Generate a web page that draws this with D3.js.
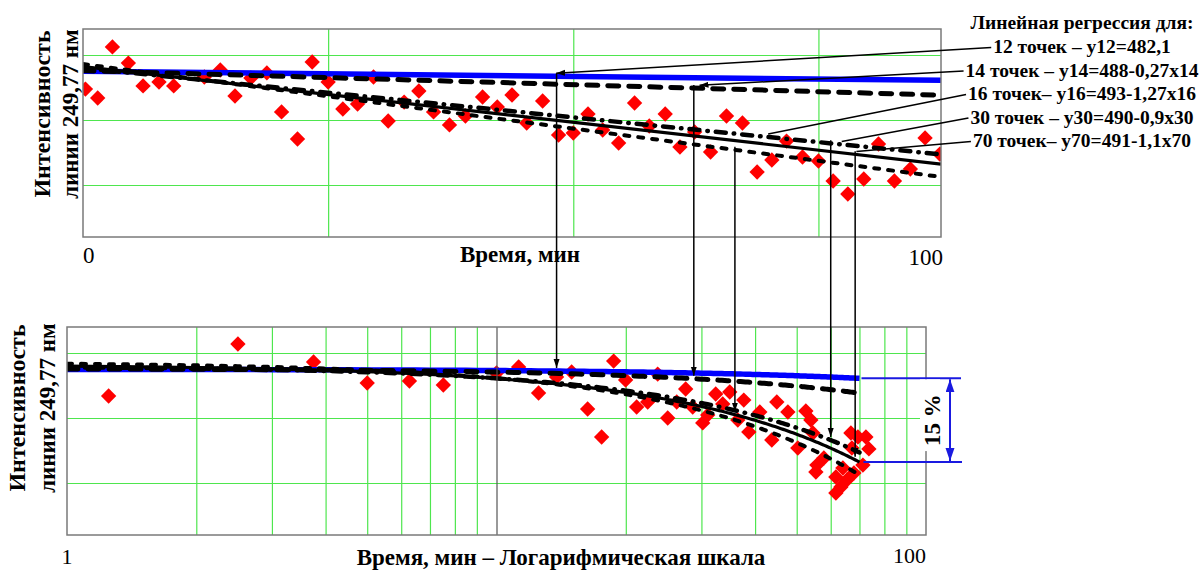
<!DOCTYPE html>
<html>
<head>
<meta charset="utf-8">
<script src="https://cdn.jsdelivr.net/npm/d3@7"></script>
<style>
  body { margin: 0; background: #fff; }
  svg { display: block; }
</style>
</head>
<body>
<div id="chart"></div>
<script>
// upper panel, linear time axis (minutes) and line intensity
const topTimes = [0.2, 1.2, 2.4, 3.7, 4.9, 6.2, 7.4, 9.9, 11.2, 12.4, 13.7, 15.0, 16.2, 17.5, 18.7, 20.0,
  21.2, 22.4, 23.7, 24.9, 26.2, 27.4, 28.6, 29.9, 31.2, 32.6, 33.8, 35.0, 36.2, 37.5, 38.8, 40.0,
  41.2, 42.4, 43.7, 45.0, 46.2, 47.5, 48.7, 49.9, 51.2, 52.5, 53.8, 55.0, 56.2, 57.4, 58.7, 60.0,
  61.2, 62.4, 63.7, 64.9, 66.2, 67.5, 68.7, 69.9];
const topValues = [473.8, 466.9, 506.2, 493.8, 476.2, 479.2, 476.2, 483.1, 488.5, 468.5, 482.3, 486.2, 456.2, 435.4, 494.6, 479.2,
  458.5, 462.3, 483.1, 449.2, 463.8, 472.3, 456.2, 446.2, 453.1, 467.7, 460.0, 469.2, 447.7, 464.6, 438.5, 440.0,
  454.6, 442.3, 432.3, 463.1, 445.4, 454.6, 429.2, 440.8, 425.4, 453.1, 447.7, 410.0, 419.2, 433.8, 421.5, 418.5,
  403.1, 393.1, 404.6, 431.5, 403.1, 412.3, 436.2, 423.8];

// lower panel, logarithmic time axis
const logTimes = [1.25, 2.5, 3.75, 5.0, 6.27, 7.52, 10.0, 11.26, 12.53, 13.8,
  14.96, 16.3, 17.57, 18.74, 19.98, 21.2, 22.49, 23.73, 25.04, 26.28,
  27.57, 28.63, 30.21, 31.03, 32.39, 33.63, 34.92, 36.46, 37.65, 38.68,
  41.03, 43.75, 44.94, 47.69, 50.3, 52.51, 53.94, 54.53, 55.41, 55.71,
  57.84, 61.68, 61.68, 63.37, 64.04, 65.44, 66.86, 67.22, 67.95, 69.42,
  71.3, 72.46, 73.63];
const logValues = [466.9, 506.9, 493.1, 476.9, 478.5, 475.4, 484.6, 489.2, 469.2, 481.5,
  485.4, 456.9, 435.4, 493.8, 479.2, 458.5, 462.3, 483.8, 450.0, 462.3,
  472.3, 458.5, 446.2, 452.3, 468.5, 460.8, 470.0, 448.5, 463.8, 439.2,
  454.6, 433.1, 462.3, 454.6, 426.9, 455.4, 448.5, 438.5, 408.5, 413.8,
  419.2, 404.6, 392.3, 396.9, 411.5, 402.3, 438.5, 426.9, 407.7, 435.4,
  413.8, 435.4, 426.2];

// regression lines (12, 14, 16, 30, 70 points), as drawn: value = a - b*t
const fitIntercepts = [487.5, 488, 493, 490, 491];
const fitSlopes = [0.1, 0.27, 1.24, 0.95, 1.07];
const fitEndTime = 70;
const legendTitle = "Линейная регрессия для:";
const legendLabels = [
  "12 точек – y12=482,1",
  "14 точек – y14=488-0,27x14",
  "16 точек– y16=493-1,27x16",
  "30 точек – y30=490-0,9x30",
  "70 точек– y70=491-1,1x70"
];

// leaders from the legend to the upper panel
const leaderTimes = [38.6, 50.3, 55.9, 61.9, 63.1];
const leaderCurves = [0, 1, 3, 3, 4];
const leaderArrow = [true, true, false, false, false];
// vertical connectors, placed by time on the log axis
const connectorTimes = [13.8, 28.8, 35.9, 60, 68.4];
const connectorTopCurves = [0, 1, 2, 3, 4];
const connectorBottomCurves = [0, 1, 4, 3, 4];

const gridValues = [400, 450, 500];
const topGridTimes = [20, 40, 60];
const logGridTimes = [2, 3, 4, 5, 6, 7, 8, 9, 20, 30, 40, 50, 60, 70, 80, 90];
const logDecadeTimes = [10];
const topTickLabels = ["0", "100"];
const logTickLabels = ["1", "100"];
const yTitle1 = "Интенсивность";
const yTitle2 = "линии 249,77 нм";
const topXTitle = "Время, мин";
const logXTitle = "Время, мин – Логарифмическая шкала";
const dropLabel = "15 %";

const fitColors = ["#0000ff", "#000", "#000", "#000", "#000"];
const fitWidths = [5.5, 5, 4, 4.5, 3.2];
const fitDashes = [null, "11,10", "5,9", "10,8,0.5,8", null];

const fitValue = (i, t) => fitIntercepts[i] - fitSlopes[i] * t;

const width = 1202, height = 570;
const topBox = { left: 83, right: 941, top: 29, bottom: 237 };
const logBox = { left: 67, right: 926, top: 327, bottom: 535 };
const valueDomain = [360, 520];
const serif = "'Liberation Serif', 'DejaVu Serif', 'Times New Roman', Times, serif";

const svg = d3.select("#chart").append("svg")
  .attr("width", width).attr("height", height)
  .attr("font-family", serif);

const defs = svg.append("defs");
defs.append("marker").attr("id", "arrowBlack")
  .attr("markerUnits", "userSpaceOnUse")
  .attr("markerWidth", 10).attr("markerHeight", 8)
  .attr("refX", 9).attr("refY", 3).attr("orient", "auto")
  .append("path").attr("d", "M0,0L9,3L0,6Z").attr("fill", "#000");
defs.append("marker").attr("id", "arrowBlue")
  .attr("markerUnits", "userSpaceOnUse")
  .attr("markerWidth", 14).attr("markerHeight", 10)
  .attr("refX", 13).attr("refY", 4.5).attr("orient", "auto-start-reverse")
  .append("path").attr("d", "M0,0L13,4.5L0,9Z").attr("fill", "#1a1ae0");

const xTop = d3.scaleLinear().domain([0, fitEndTime]).range([topBox.left, topBox.right]);
const yTop = d3.scaleLinear().domain(valueDomain).range([topBox.bottom, topBox.top]);
const xLog = d3.scaleLog().domain([1, 100]).range([logBox.left, logBox.right]);
const yLog = d3.scaleLinear().domain(valueDomain).range([logBox.bottom, logBox.top]);

const diamond = d3.symbol().type(d3.symbolSquare).size(118);

function drawPanel(name, box, x, y, gridTimes, times, values, fitTimes) {
  const w = box.right - box.left, h = box.bottom - box.top;
  const g = svg.append("g");

  defs.append("clipPath").attr("id", "clip-" + name)
    .append("rect").attr("x", box.left).attr("y", box.top).attr("width", w).attr("height", h);

  // green grid through the axes
  g.append("g")
    .attr("transform", `translate(${box.left},0)`)
    .call(d3.axisLeft(y).tickValues(gridValues).tickSize(-w).tickFormat(""))
    .call(a => a.select(".domain").remove())
    .call(a => a.selectAll("line").attr("stroke", "#4ee64e").attr("stroke-width", 1.2));
  g.append("g")
    .attr("transform", `translate(0,${box.bottom})`)
    .call(d3.axisBottom(x).tickValues(gridTimes).tickSize(-h).tickFormat(""))
    .call(a => a.select(".domain").remove())
    .call(a => a.selectAll("line").attr("stroke", "#4ee64e").attr("stroke-width", 1.2));

  // points
  g.append("g").attr("clip-path", `url(#clip-${name})`)
    .selectAll("path").data(times).join("path")
    .attr("d", diamond)
    .attr("fill", "#ff0000")
    .attr("transform", (t, i) => `translate(${x(t)},${y(values[i])}) rotate(45)`);

  // regression lines
  const lines = g.append("g").attr("clip-path", `url(#clip-${name})`);
  fitIntercepts.forEach((a, i) => {
    lines.append("path")
      .attr("d", d3.line().x(t => x(t)).y(t => y(fitValue(i, t)))(fitTimes))
      .attr("fill", "none")
      .attr("stroke", fitColors[i])
      .attr("stroke-width", fitWidths[i])
      .attr("stroke-linecap", fitDashes[i] ? "round" : "butt")
      .attr("stroke-dasharray", fitDashes[i]);
  });
  return g;
}

const topPanel = drawPanel("top", topBox, xTop, yTop, topGridTimes, topTimes, topValues, [0, fitEndTime]);
const logFitTimes = d3.range(1, fitEndTime + 0.01, 0.5);
const logPanel = drawPanel("log", logBox, xLog, yLog, logGridTimes, logTimes, logValues, logFitTimes);

// decade line at 10 min on the log axis
logPanel.append("g")
  .attr("transform", `translate(0,${logBox.bottom})`)
  .call(d3.axisBottom(xLog).tickValues(logDecadeTimes).tickSize(-(logBox.bottom - logBox.top)).tickFormat(""))
  .call(a => a.select(".domain").remove())
  .call(a => a.selectAll("line").attr("stroke", "#555").attr("stroke-width", 1.2));

[topBox, logBox].forEach(b => {
  svg.append("rect")
    .attr("x", b.left).attr("y", b.top)
    .attr("width", b.right - b.left).attr("height", b.bottom - b.top)
    .attr("fill", "none").attr("stroke", "#7a7a7a").attr("stroke-width", 1.5);
});

function label(x, y, s, size, anchor, bold) {
  return svg.append("text").attr("x", x).attr("y", y)
    .attr("font-family", serif).attr("font-size", size)
    .attr("text-anchor", anchor).attr("font-weight", bold ? "bold" : "normal")
    .attr("fill", "#000").text(s);
}

// tick labels at the ends of each time axis
label(xTop(0), 263, topTickLabels[0], 23, "start", false);
label(xTop(fitEndTime) + 2, 265, topTickLabels[1], 23, "end", false);
label(xLog(1), 564, logTickLabels[0], 22, "middle", false);
label(xLog(100), 563, logTickLabels[1], 22, "end", false);

// axis titles
function yTitles(cx1, cx2, cy) {
  label(0, 0, yTitle1, 24, "middle", true).attr("transform", `translate(${cx1},${cy}) rotate(-90)`);
  label(0, 0, yTitle2, 23, "middle", true).attr("transform", `translate(${cx2},${cy}) rotate(-90)`);
}
yTitles(50, 78, 114);
yTitles(25, 55, 408);

label(520, 262, topXTitle, 23, "middle", true);
label(561, 565, logXTitle, 23, "middle", true);

// legend
const legendX = 1082;
label(legendX, 29, legendTitle, 19.5, "middle", true);
const legendItems = legendLabels.map((s, i) => label(legendX, 53 + i * 23.5, s, 19.5, "middle", true));

// leaders and vertical connectors
const ann = svg.append("g").attr("stroke", "#000").attr("stroke-width", 1.5).attr("fill", "none");
legendItems.forEach((item, i) => {
  const bb = item.node().getBBox();
  const tx = xTop(leaderTimes[i]);
  const ty = yTop(fitValue(leaderCurves[i], leaderTimes[i])) - 3;
  ann.append("line")
    .attr("x1", bb.x - 2).attr("y1", bb.y + bb.height / 2 + 1)
    .attr("x2", tx).attr("y2", ty)
    .attr("marker-end", leaderArrow[i] ? "url(#arrowBlack)" : null);

  const cx = xLog(connectorTimes[i]);
  const tTop = xTop.invert(cx);
  const y1 = yTop(fitValue(connectorTopCurves[i], tTop)) - 3;
  const y2 = yLog(fitValue(connectorBottomCurves[i], connectorTimes[i])) - 3;
  ann.append("line")
    .attr("x1", cx).attr("y1", y1).attr("x2", cx).attr("y2", y2)
    .attr("marker-end", "url(#arrowBlack)");
});

// 15 % drop marker
const dropTop = yLog(fitValue(0, fitEndTime));
const dropBottom = yLog(fitValue(4, fitEndTime));
const dropG = svg.append("g").attr("stroke", "#1a1ae0").attr("stroke-width", 2);
dropG.append("line").attr("x1", xLog(fitEndTime) + 2).attr("x2", logBox.right + 35)
  .attr("y1", dropTop).attr("y2", dropTop);
dropG.append("line").attr("x1", xLog(fitEndTime) + 4).attr("x2", logBox.right + 36)
  .attr("y1", dropBottom).attr("y2", dropBottom);
dropG.append("line").attr("x1", logBox.right + 24).attr("x2", logBox.right + 24)
  .attr("y1", dropTop + 1).attr("y2", dropBottom - 1)
  .attr("marker-start", "url(#arrowBlue)").attr("marker-end", "url(#arrowBlue)");

const dropMid = (dropTop + dropBottom) / 2;
svg.append("rect").attr("x", logBox.right - 6).attr("y", dropTop + 1)
  .attr("width", 20).attr("height", dropBottom - dropTop - 12).attr("fill", "#fff");
label(0, 0, dropLabel, 23, "middle", true)
  .attr("transform", `translate(${logBox.right + 14},${dropMid}) rotate(-90)`);
</script>
</body>
</html>
